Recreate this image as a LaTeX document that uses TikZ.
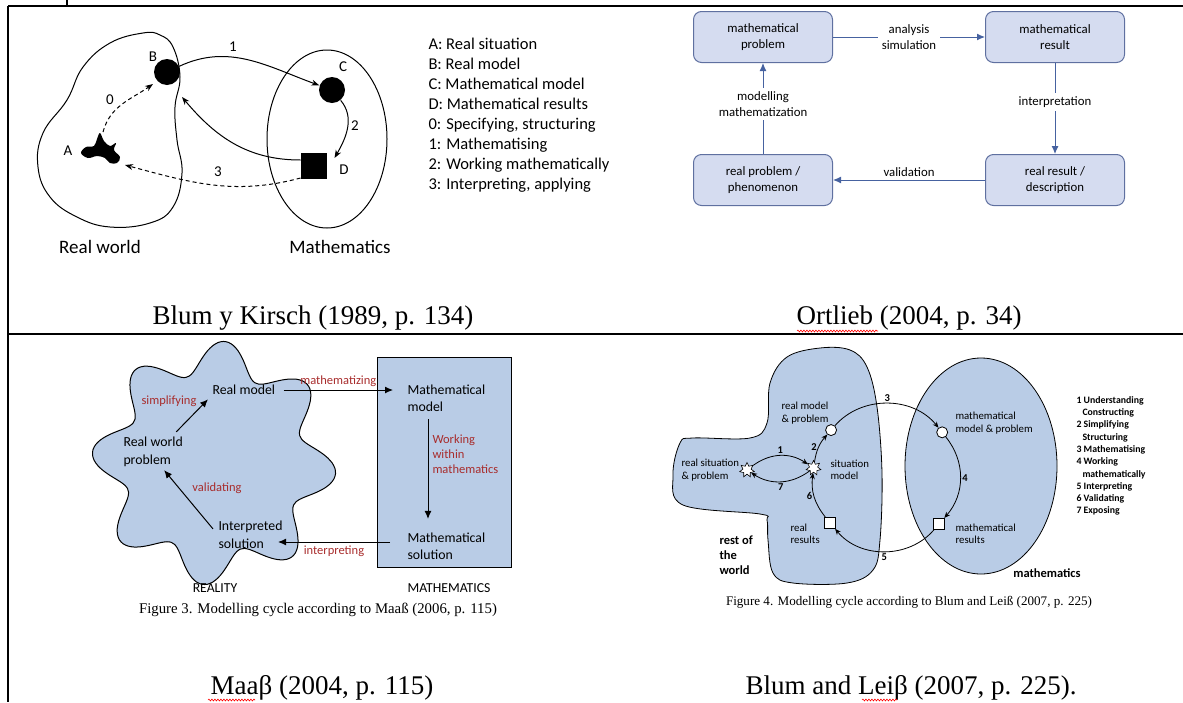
\documentclass[tikz,border=0pt]{standalone}
\usepackage{fontspec}
\setmainfont{Liberation Serif}
\newfontfamily\carlito{Carlito}
\usepackage{tikz}
\usetikzlibrary{arrows.meta,positioning,calc,shapes.geometric,decorations.pathmorphing}
\newcommand\fsz[2]{\fontsize{#1}{#2}\selectfont}

\definecolor{boxfill}{RGB}{213,220,240}
\definecolor{boxline}{RGB}{95,112,160}
\definecolor{arrblue}{RGB}{70,98,160}
\definecolor{blobfill}{RGB}{185,204,230}
\definecolor{labred}{RGB}{168,44,44}

\begin{document}
\begin{tikzpicture}[x=1pt,y=1pt,line width=1pt,
  every node/.style={font=\carlito},
  blk/.style={-{Stealth[length=8pt,width=6pt]}},
  dsh/.style={blk,dashed,dash pattern=on 4pt off 3pt},
  dot/.style={circle,fill=black,minimum size=26pt,inner sep=0pt},
  lab/.style={font=\carlito\fsz{15}{18}},
  bbox/.style={draw=boxline,fill=boxfill,rounded corners=8pt,minimum width=139pt,
    minimum height=51pt,align=center,font=\carlito\fsz{12.8}{16}},
  barr/.style={draw=arrblue,-{Latex[length=8pt,width=7pt]},fill=arrblue},
  karr/.style={-{Latex[length=8pt,width=7pt]}},
  ptxt/.style={align=left,anchor=west,inner sep=0pt,font=\carlito\fsz{13.8}{17.5}},
  redlab/.style={text=labred,font=\carlito\fsz{12.5}{15}},
  cyc/.style={-{Stealth[length=6pt,width=5pt]},line width=0.8pt},
  wcirc/.style={circle,draw,fill=white,minimum size=11pt,inner sep=0pt,line width=0.8pt},
  wsq/.style={draw,fill=white,minimum size=11pt,inner sep=0pt,line width=0.8pt},
  wstar/.style={star,star points=7,star point ratio=1.8,draw,fill=white,
    minimum size=15pt,inner sep=0pt,line width=0.6pt},
  stxt/.style={align=left,anchor=west,inner sep=0pt,font=\carlito\fsz{10.8}{12.5}},
  num/.style={font=\carlito\bfseries\fsz{10.5}{12},inner sep=1.5pt},
  bigcap/.style={font=\rmfamily\fsz{27}{30}},
  figcap/.style={font=\rmfamily\fsz{14.8}{16}},
  squig/.style={red,line width=0.6pt,decorate,decoration={snake,amplitude=0.9pt,segment length=3pt}}]

  \useasboundingbox (0,0) rectangle (1183,-702);

  % table lines
  \draw[line width=1.5pt] (8,-6) -- (1183,-6);
  \draw[line width=1.5pt] (8,-6) -- (8,-702);
  \draw[line width=1.5pt] (8,-334) -- (1183,-334);
  \draw[line width=1.5pt] (67,0) -- (67,-6);

  % ---- Blum y Kirsch ----
  \draw plot[smooth cycle,tension=0.7] coordinates {(143,-33) (110,-43) (83,-67)
    (67,-100) (43,-133) (38,-167) (50,-197) (77,-217) (110,-227) (150,-223)
    (173,-207) (182,-173) (177,-140) (175,-107) (180,-77) (173,-47) (160,-35)};
  \draw (327,-139) ellipse [x radius=60,y radius=89];
  \fill plot[smooth cycle,tension=0.6] coordinates {(100,-133) (104,-141) (110,-146)
    (116,-143) (114,-150) (120,-157) (117,-163) (110,-163) (105,-158) (97,-156)
    (88,-158) (81,-153) (86,-147) (94,-146) (97,-139)};
  \coordinate (Atop) at (103,-132);
  \coordinate (Aend) at (125,-165);
  \node[dot] (B) at (167,-72) {};
  \node[dot] (C) at (332,-90) {};
  \node[dot,rectangle] (D) at (314,-166) {};
  \node[lab] (lA) at (68,-151) {A};
  \node[lab] (lB) at (153,-57) {B};
  \node[lab] (lC) at (343,-67) {C};
  \node[lab] (lD) at (344,-170) {D};

  \draw[blk] (B) to[out=25,in=160] (C);
  \draw[blk] (C) to[out=-50,in=60] ($(D.east)+(7,8)$);
  \draw[blk] ($(D.west)+(0,6)$) to[out=180,in=-50] ($(B)+(15,-25)$);
  \draw[dsh] ($(D.west)+(0,-12)$) to[out=195,in=-15] (Aend);
  \draw[dsh] (Atop) to[out=75,in=215] ($(B)+(-14,-12)$);
  \node[lab] (n0) at (110,-100) {0};
  \node[lab] (n1) at (233,-47) {1};
  \node[lab] (n2) at (355,-126) {2};
  \node[lab] (n3) at (218,-172) {3};

  \node[align=left,anchor=west,inner sep=0pt,font=\carlito\fsz{16.5}{20}] (leg1) at (428,-115)
    {A: Real situation\\B: Real model\\C: Mathematical model\\D: Mathematical results\\
     0: Specifying, structuring\\1: Mathematising\\2: Working mathematically\\
     3: Interpreting, applying};
  \node[font=\carlito\fsz{19}{22}] (rw) at (100,-247) {Real world};
  \node[font=\carlito\fsz{19}{22}] (ma) at (340,-247) {Mathematics};
  \node[bigcap] (cap1) at (313,-318) {Blum y Kirsch (1989, p. 134)};

  % ---- Ortlieb ----
  \node[bbox] (mp) at (763,-37) {mathematical\\problem};
  \node[bbox,right=152pt of mp] (mr) {mathematical\\result};
  \node[bbox,below=91pt of mp] (rp) {real problem /\\phenomenon};
  \node[bbox,below=91pt of mr] (rr) {real result /\\description};
  \draw[barr] (mp) -- node[fill=white,align=center,font=\carlito\fsz{12.8}{16}] {analysis\\simulation} (mr);
  \draw[barr] (mr) -- node[fill=white,pos=0.43,font=\carlito\fsz{12.8}{16}] {interpretation} (rr);
  \draw[barr] (rr) -- node[above,font=\carlito\fsz{12.8}{16}] {validation} (rp);
  \draw[barr] (rp) -- node[fill=white,align=center,pos=0.55,font=\carlito\fsz{12.8}{16}] {modelling\\mathematization} (mp);
  \node[bigcap] (cap2) at (909,-318) {Ortlieb (2004, p. 34)};
  \draw[squig] (797,-331) -- (878,-331);

  % ---- Maass ----
  \draw[fill=blobfill] plot[domain=0:360,samples=144,smooth cycle]
    ({214+(106+16*cos(8*(\x+5)))*cos(\x)},{-463+(106+16*cos(8*(\x+5)))*sin(\x)});
  \draw[fill=blobfill] (377,-357) rectangle (511,-567);
  \node[ptxt] (rmod) at (212,-390) {Real model};
  \node[ptxt] (rwp) at (123,-452) {Real world\\problem};
  \node[ptxt] (isol) at (218,-535) {Interpreted\\solution};
  \node[ptxt] (mmod) at (407,-398) {Mathematical\\model};
  \node[ptxt] (msol) at (407,-546) {Mathematical\\solution};
  \draw[karr] ($(rwp.north east)+(-7,5)$) -- ($(rmod.south west)+(-4,-4)$);
  \draw[karr] ($(rmod.east)+(8,0)$) -- node[above,redlab] {mathematizing} ($(mmod.west)+(-14,8)$);
  \draw[karr] ($(mmod.south west)+(21,-7)$) -- ($(msol.north west)+(21,13)$);
  \draw[karr] ($(msol.west)+(-17,4)$) -- node[below,redlab] {interpreting} ($(isol.east)+(-5,-7)$);
  \draw[karr] ($(isol.north west)+(-5,-8)$) -- ($(rwp.south)+(11,-3)$);
  \node[redlab] (simp) at (169,-401) {simplifying};
  \node[redlab] (vali) at (217,-488) {validating};
  \node[redlab,align=left,anchor=west,inner sep=0pt] (work) at (432,-454) {Working\\within\\mathematics};
  \node[font=\carlito\fsz{13.7}{15}] (real) at (215,-588) {REALITY};
  \node[font=\carlito\fsz{13.7}{15}] (math) at (449,-588) {MATHEMATICS};
  \node[figcap] (fig3) at (318,-610) {Figure 3. Modelling cycle according to Maaß (2006, p. 115)};
  \node[bigcap] (cap3) at (322,-688) {Maaβ (2004, p. 115)};
  \draw[squig] (208,-700) -- (255,-700);

  % ---- Blum and Leiss ----
  \draw[fill=blobfill,line width=0.8pt] plot[smooth cycle,tension=0.6] coordinates {(693,-438)
    (750,-438) (767,-423) (770,-383) (787,-357) (820,-348) (850,-350) (867,-367)
    (877,-407) (882,-473) (880,-540) (873,-570) (847,-583) (793,-583) (773,-573)
    (768,-540) (767,-520) (760,-514) (683,-505) (673,-475) (680,-443)};
  \draw[fill=blobfill,line width=0.8pt] (981,-466) ellipse [x radius=76,y radius=108];
  \coordinate (ctr) at (887,-477);
  \node[wstar] (st1) at (747,-470) {};
  \node[wstar] (st2) at ($(ctr)+(173:74)$) {};
  \node[wcirc] (rmp) at ($(ctr)+(140:73)$) {};
  \node[wcirc] (mmp) at ($(ctr)+(39:71)$) {};
  \node[wsq] (rres) at ($(ctr)+(219:73)$) {};
  \node[wsq] (mres) at ($(ctr)+(318:70)$) {};
  \draw[cyc] (st1) to[bend left=35] node[num,above] {1} (st2);
  \draw[cyc] (st2) to[bend left=35] node[num,below] {7} (st1);
  \draw[cyc] (st2) to[bend left=16] node[num,left] {2} (rmp);
  \draw[cyc] (rmp) to[bend left=50] node[num,above] {3} (mmp);
  \draw[cyc] (mmp) to[bend left=40] node[num,right] {4} (mres);
  \draw[cyc] (mres) to[bend left=50] node[num,below] {5} (rres);
  \draw[cyc] (rres) to[bend left=23] node[num,left] {6} (st2);
  \node[stxt] (trm) at (781,-413) {real model\\\& problem};
  \node[stxt] (trs) at (681,-470) {real situation\\\& problem};
  \node[stxt] (tsm) at (830,-470) {situation\\model};
  \node[stxt] (trr) at (790,-534) {real\\results};
  \node[stxt] (tmm) at (955,-423) {mathematical\\model \& problem};
  \node[stxt] (tmr) at (955,-534) {mathematical\\results};
  \node[align=left,anchor=west,inner sep=0pt,font=\carlito\bfseries\fsz{12.5}{15}] (rest) at (719,-555) {rest of\\the\\world};
  \node[font=\carlito\bfseries\fsz{12.5}{15}] (tmath) at (1047,-573) {mathematics};
  \node[align=left,anchor=west,inner sep=0pt,font=\carlito\bfseries\fsz{9.8}{12.3}] (leg4) at (1076,-456)
    {1 Understanding\\\hspace*{6pt}Constructing\\2 Simplifying\\\hspace*{6pt}Structuring\\
     3 Mathematising\\4 Working\\\hspace*{6pt}mathematically\\5 Interpreting\\
     6 Validating\\7 Exposing};
  \node[font=\rmfamily\fsz{13.1}{14}] (fig4) at (909,-602) {Figure 4. Modelling cycle according to Blum and Leiß (2007, p. 225)};
  \node[bigcap] (cap4) at (911,-688) {Blum and Leiβ (2007, p. 225).};
  \draw[squig] (862,-700) -- (897,-700);
\end{tikzpicture}
\end{document}
